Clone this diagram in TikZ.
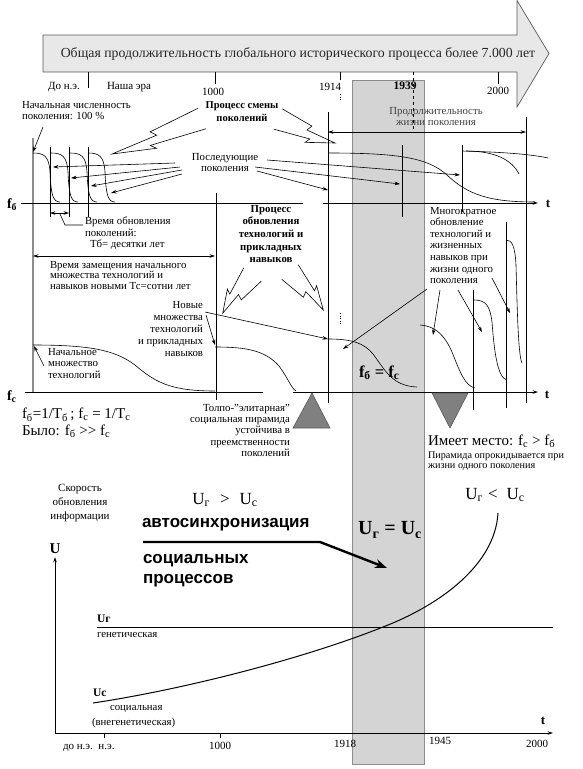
\documentclass[tikz,border=0pt]{standalone}
\usepackage{fontspec}
\setmainfont{Liberation Serif}
\newfontfamily\sansfam{Liberation Sans}
\usetikzlibrary{arrows.meta,calc}
\newcommand\sbs[1]{\textsubscript{#1}}
\newcommand\boltarrow[3]{%
  \coordinate (bM) at #1;
  \coordinate (bT) at #2;
  \coordinate (bU1) at ($(bM)!0.55!(bT)$);
  \coordinate (bU2) at ($(bM)!0.50!(bT)$);
  \coordinate (bD1) at ($(bM)!0.60!(bT)$);
  \coordinate (bD2) at ($(bM)!0.55!(bT)$);
  \draw[boltln] ($(bM)!-#3pt!90:(bT)$) -- ($(bU1)!-0.6*#3pt!90:(bT)$)
     -- ($(bU2)!-0.1*#3pt!90:(bT)$) -- (bT) -- ($(bD2)!#3pt!90:(bT)$)
     -- ($(bD1)!0.55*#3pt!90:(bT)$) -- ($(bM)!#3pt!90:(bT)$);}
\newcommand\gencurve[2]{\draw[lnthin] (#1,153) .. controls (#1+11,153) and (#1+16,156) .. (#1+17,172) .. controls (#1+18,195) and (#1+20,202) .. (#1+27,202) coordinate (#2);}
\begin{document}
\begin{tikzpicture}[x=1pt,y=-1pt,
  every node/.style={inner sep=0pt,outer sep=0pt},
  lnthin/.style={line width=0.6pt},
  axln/.style={line width=0.8pt},
  arrw/.style={-{Stealth[length=5.5pt,width=3.6pt]}},
  darrw/.style={{Stealth[length=5.5pt,width=3.6pt]}-{Stealth[length=5.5pt,width=3.6pt]}},
  boltln/.style={line width=0.6pt,line join=miter},
  txtsm/.style={font=\fontsize{10.8}{11.3}\selectfont},
  txtb/.style={font=\fontsize{10.5}{12.5}\selectfont\bfseries},
  yrlbl/.style={font=\fontsize{11}{13}\selectfont},
  bigtxt/.style={font=\fontsize{15}{16.5}\selectfont},
  flbl/.style={font=\fontsize{14}{14}\selectfont\bfseries},
  tlbl/.style={font=\fontsize{13}{13}\selectfont\bfseries},
  sanst/.style={font=\fontsize{17}{20}\sansfam\bfseries},
  bandst/.style={fill=black!17,draw=black!45,line width=0.8pt},
  arrbody/.style={fill=black!9,draw=black!65,line width=0.7pt},
  trist/.style={fill=black!50,draw=black!65,line width=0.6pt}]
\useasboundingbox (0,0) rectangle (583,769);
\fill[white] (0,0) rectangle (583,769);

% gray band
\draw[bandst] (352,80) rectangle (424,764);

% top arrow
\draw[arrbody] (43,35) -- (517,35) -- (517,0.5) -- (549,53.5) -- (517,107) -- (517,72) -- (43,72) -- cycle;
\node[font=\fontsize{13.8}{15}\selectfont,text=black!85] (ttl) at (298,54) {Общая продолжительность глобального исторического процесса более 7.000 лет};

% ticks
\draw[lnthin] (88,72) -- (88,88);
\draw[lnthin] (215,72) -- (215,84);
\draw[lnthin] (340,72) -- (340,80);
\draw[lnthin,dotted] (340,94) -- (340,100);
\draw[lnthin,dashed] (413,72) -- (413,130);
\draw[lnthin] (498,72) -- (498,84);
\node[yrlbl,anchor=base west] (bc) at (48,89) {До н.э.};
\node[yrlbl,anchor=base west] (ne) at (107,89) {Наша эра};
\node[yrlbl,anchor=base] (y1000) at (213,95) {1000};
\node[yrlbl,anchor=base] (y1914) at (330,90) {1914};
\node[anchor=base,font=\fontsize{11.5}{13}\selectfont\bfseries] (y1939) at (405,89) {1939};
\node[yrlbl,anchor=base] (y2000) at (498,94) {2000};

% --- upper panel: generations
\draw[black!45,line width=1.3pt] (33,138) -- (33,392);
\foreach \xx in {50,69,88} \draw[lnthin] (\xx,147) -- (\xx,217);
\draw[lnthin] (216,193) -- (216,400);
\draw[lnthin] (328,112) -- (328,403);
\draw[lnthin] (402,145) -- (402,217);
\draw[lnthin] (462,145) -- (462,212);
\draw[lnthin] (526,117) -- (526,403);
\draw[lnthin] (473,290) -- (473,410);
\draw[lnthin] (506,222) -- (506,408);

% f_b axis
\draw[axln] (21,203) -- (303,203);
\draw[axln,arrw] (323,203) -- (538,203);
\node[flbl,anchor=base west] (fb) at (7,208) {f\sbs{б}};
\node[tlbl] (tt1) at (548,204) {t};

\gencurve{33}{g1}
\gencurve{51}{g2}
\gencurve{70}{g3}
\gencurve{88}{g4}

\node[txtsm,align=left,anchor=north west] (tinit) at (22,101) {Начальная численность\\поколения: 100 \%};
\coordinate (cinit) at (43,127);
\coordinate (cstart) at (33,152);
\draw[lnthin,arrw] (cinit) -- (cstart);

\node[txtb,align=center,anchor=north] (tsmena) at (242,102) {Процесс смены\\поколений};
\boltarrow{(202,118.5)}{(112,154)}{11}
\boltarrow{(278,119)}{(335,143)}{-11}

\node[txtsm,align=center,anchor=north] (tposl) at (225,153) {Последующие\\поколения};
\coordinate (p1) at (175,163); \coordinate (q1) at (53,167);
\coordinate (p2) at (180,167); \coordinate (q2) at (71,178);
\coordinate (p3) at (182,170); \coordinate (q3) at (91,186);
\coordinate (p4) at (182,174); \coordinate (q4) at (111,193);
\foreach \i in {1,...,4} \draw[lnthin,arrw] (p\i) -- (q\i);
\coordinate (r1) at (267,160); \coordinate (s1) at (460,175);
\coordinate (r2) at (255,167); \coordinate (s2) at (400,184);
\coordinate (r3) at (257,171); \coordinate (s3) at (328,190);
\foreach \i in {1,2,3} \draw[lnthin,arrw] (r\i) -- (s\i);

% right generation curves
\draw[lnthin] (328,153) .. controls (400,153) and (428,158) .. (447,175) .. controls (468,195) and (490,202) .. (535,202);
\draw[lnthin] (462,151) .. controls (500,152) and (530,154) .. (548,158);
\draw[lnthin] (466,151) .. controls (495,151) and (512,160) .. (519,174);

\node[txtsm,align=center,anchor=north,text=black!75] (tprod) at (436,107) {Продолжительность\\жизни поколения};
\coordinate (dl) at (328,132); \coordinate (dr) at (526,132);
\draw[lnthin,darrw] (dl) -- (dr);

% Time of renewal
\coordinate (da) at (50,213); \coordinate (db) at (69,213);
\draw[lnthin,darrw] (da) -- (db);
\draw[lnthin] (60,214) -- (65,225) -- (83,225);
\node[txtsm,align=left,anchor=north west] (tvr) at (85,217) {Время обновления\\поколений:\\\hspace*{5pt}Тб= десятки лет};
\coordinate (la) at (33,256); \coordinate (lb) at (215,256);
\draw[lnthin,darrw] (la) -- (lb);
\node[align=left,anchor=north west,font=\fontsize{10.8}{10.6}\selectfont] (tzam) at (50,261) {Время замещения начального\\множества технологий и\\навыков новыми Тс=сотни лет};

\node[align=center,anchor=north,font=\fontsize{10.8}{12.7}\selectfont\bfseries] (tproc) at (271,205) {Процесс\\обновления\\технологий и\\прикладных\\навыков};
\boltarrow{(252.5,274.5)}{(222.7,313.3)}{-11}
\boltarrow{(290,272)}{(323.3,310)}{11}

\node[align=left,anchor=north west,font=\fontsize{10.8}{11.6}\selectfont] (tmn) at (430,207) {Многократное\\обновление\\технологий и\\жизненных\\навыков при\\жизни одного\\поколения};

% f_c axis
\draw[axln] (25,392) -- (263,392);
\draw[axln,arrw] (293,392) -- (538,392);
\node[flbl,anchor=base west] (fc) at (7,400) {f\sbs{с}};
\node[tlbl] (tt2) at (547,395) {t};

% technology curves
\draw[lnthin] (33,345) .. controls (90,345) and (115,350) .. (135,365) .. controls (155,382) and (170,391) .. (215,391);
\draw[lnthin] (215,347) .. controls (245,347) and (265,350) .. (279,366) .. controls (288,378) and (291,388) .. (296,391);
\draw[lnthin] (328,339) .. controls (352,339) and (364,343) .. (373,354) .. controls (385,370) and (392,386) .. (417,387);
\draw[lnthin] (420,325) .. controls (436,326) and (445,336) .. (452,352) .. controls (460,372) and (465,386) .. (475,388);
\draw[lnthin] (474,300) .. controls (486,300) and (490,306) .. (492,322) .. controls (494,348) and (497,378) .. (507,380);
\draw[lnthin] (506,240) .. controls (512,240) and (515,246) .. (516,265) .. controls (517,300) and (518,356) .. (522,363);
\draw[lnthin,dotted] (340,313) -- (340,324);

\node[align=left,anchor=north west,font=\fontsize{10.8}{11.5}\selectfont] (tnach) at (48,348) {Начальное\\множество\\технологий};
\coordinate (na) at (44,366); \coordinate (nb) at (34,346);
\draw[lnthin,arrw] (na) -- (nb);

\node[align=right,anchor=north east,font=\fontsize{10.8}{12.2}\selectfont] (tnew) at (203,301) {Новые\\множества\\технологий\\и прикладных\\навыков};
\coordinate (nw1) at (205,312); \coordinate (nw2) at (328,339);
\draw[lnthin,arrw] (nw1) -- (nw2);
\coordinate (nw3) at (206,315); \coordinate (nw4) at (215,345);
\draw[lnthin,arrw] (nw3) -- (nw4);

\coordinate (m1) at (427,289); \coordinate (m1t) at (343,349);
\coordinate (m2) at (440,290); \coordinate (m2t) at (433,335);
\coordinate (m3) at (458,290); \coordinate (m3t) at (482,332);
\coordinate (m4) at (492,278); \coordinate (m4t) at (510,313);
\foreach \i in {1,...,4} \draw[lnthin,arrw] (m\i) -- (m\i t);

\node[font=\fontsize{16.5}{16}\selectfont\bfseries,anchor=base west] (feq) at (359,377) {f\sbs{б} = f\sbs{с}};

% pyramids
\draw[trist] (293,428) -- (312,393) -- (330,428) -- cycle;
\draw[trist] (432,393) -- (468,393) -- (450,428) -- cycle;

\node[bigtxt,align=left,anchor=north west] (tform) at (22,408) {f\sbs{б}=1/T\sbs{б}\,; f\sbs{с} = 1/T\sbs{с}\\Было: f\sbs{б} >{}> f\sbs{с}};
\node[align=right,anchor=north east,font=\fontsize{10.8}{11.3}\selectfont] (ttolpo) at (290,404) {Толпо-"элитарная"\\социальная пирамида\\устойчива в\\преемственности\\поколений};
\node[bigtxt,anchor=base west] (timeet) at (428,445) {Имеет место: f\sbs{с} > f\sbs{б}};
\node[align=left,anchor=north west,font=\fontsize{10.2}{10.2}\selectfont] (tpir) at (428,452) {Пирамида опрокидывается при\\жизни одного поколения};

% --- lower panel
\node[align=center,anchor=north,font=\fontsize{11}{14}\selectfont] (tskor) at (80,484) {Скорость\\обновления\\информации};
\coordinate (o) at (55,733);
\coordinate (uy) at (55,557);
\coordinate (ux) at (553,733);
\draw[axln,arrw] (o) -- (uy);
\draw[axln,arrw] (o) -- (ux);
\node[font=\fontsize{15}{15}\selectfont\bfseries] (tU) at (55,549) {U};
\node[tlbl] (tt3) at (543,721) {t};
\draw[lnthin] (104,733) -- (104,738);
\draw[lnthin] (220,733) -- (220,738);
\node[yrlbl,anchor=base west] (bbc) at (63,749) {до н.э.\ \ н.э.};
\node[yrlbl,anchor=base] (b1000) at (220,749) {1000};
\node[yrlbl,anchor=base] (b1918) at (345,747) {1918};
\node[yrlbl,anchor=base] (b1945) at (440,744) {1945};
\node[yrlbl,anchor=base] (b2000) at (537,747) {2000};

\node[font=\fontsize{17}{17}\selectfont] (tugt) at (225,500) {U\sbs{г}\hspace{10pt}>\hspace{10pt}U\sbs{с}};
\node[font=\fontsize{17}{17}\selectfont] (tult) at (495,495) {U\sbs{г}\hspace{5pt}<\hspace{9pt}U\sbs{с}};
\node[font=\fontsize{20}{20}\selectfont\bfseries] (tueq) at (390,530) {U\sbs{г} = U\sbs{с}};

\node[sanst,anchor=base west] (tauto) at (142,527) {автосинхронизация};
\node[sanst,align=left,anchor=north west] (tsoc) at (143,554) {социальных\\процессов};
\coordinate (ka) at (143,542); \coordinate (kb) at (320,542); \coordinate (kc) at (387,568);
\draw[line width=2.4pt,-{Stealth[length=12pt,width=9pt]}] (ka) -- (kb) -- (kc);

\coordinate (ur0) at (97,627); \coordinate (ur1) at (553,627);
\draw[line width=1pt] (ur0) -- (ur1);
\node[font=\fontsize{11.5}{12}\selectfont\bfseries,anchor=base west] (tUr) at (97,622) {Uг};
\node[txtsm,anchor=base west] (tgen) at (97,637) {генетическая};
\draw[line width=1pt] (93,703) .. controls (180,690) and (300,660) .. (383,627) .. controls (440,605) and (495,565) .. (498,513);
\node[font=\fontsize{11.5}{12}\selectfont\bfseries,anchor=base west] (tUc) at (93,696) {Uc};
\node[txtsm,anchor=base west] (tsoc2) at (110,710) {социальная};
\node[txtsm,anchor=base west] (tvne) at (92,725) {(внегенетическая)};
\end{tikzpicture}
\end{document}
